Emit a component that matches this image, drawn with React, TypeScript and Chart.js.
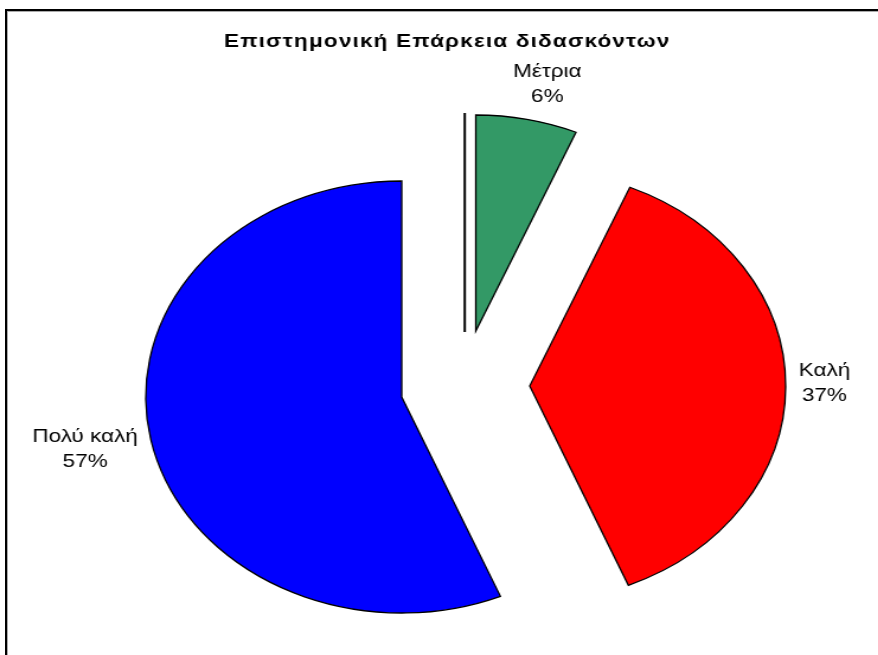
import React, { useEffect, useRef } from 'react';
import { Chart, registerables } from 'chart.js';

Chart.register(...registerables);

// ---- data ----
const chartTitle = 'Επιστημονική Επάρκεια διδασκόντων';
const categories = ['Μέτρια', 'Καλή', 'Πολύ καλή'];
// slice sizes as drawn in the picture (angles of the slices)
const values = [6.4, 37.3, 56.3];
// percentage labels as printed on the picture
const percentLabels = ['6%', '37%', '57%'];
const colors = ['#339966', '#FF0000', '#0000FF'];

// ---- layout / style ----
const STRETCH = 1.185; // the original chart image is stretched horizontally
const W = 741;
const H = 655;
const EXPLODE: [number, number][] = [
  [62.5, -66],
  [108, -11],
  [0, 0],
];
const LABEL_NUDGE: [number, number][] = [
  [9, 1.5],
  [-1, -4],
  [0, 3],
];
const FONT = 'Arial, "Liberation Sans", sans-serif';

const explodePlugin = {
  id: 'explodeSlices',
  afterDatasetsUpdate(chart: any) {
    const meta = chart.getDatasetMeta(0);
    meta.data.forEach((el: any, i: number) => {
      const s = EXPLODE[i] || [0, 0];
      el.x += s[0];
      el.y += s[1];
    });
  },
};

const decorPlugin = {
  id: 'decor',
  afterDatasetsDraw(chart: any) {
    const ctx = chart.ctx as CanvasRenderingContext2D;
    const meta = chart.getDatasetMeta(0);
    ctx.save();
    // side edge of the first exploded slice
    const g0 = meta.data[0];
    if (g0) {
      const p = g0.getProps(['x', 'y', 'outerRadius'], true);
      ctx.beginPath();
      ctx.strokeStyle = '#000';
      ctx.lineWidth = 2;
      ctx.moveTo(p.x - 9.3, p.y - p.outerRadius - 2);
      ctx.lineTo(p.x - 9.3, p.y + 1);
      ctx.stroke();
    }
    // data labels
    ctx.font = '19px ' + FONT;
    ctx.fillStyle = '#000';
    ctx.textAlign = 'center';
    ctx.textBaseline = 'middle';
    const lh = 25;
    const gap = 12;
    meta.data.forEach((el: any, i: number) => {
      const p = el.getProps(['x', 'y', 'startAngle', 'endAngle', 'outerRadius'], true);
      const mid = (p.startAngle + p.endAngle) / 2;
      const dx = Math.cos(mid);
      const dy = Math.sin(mid);
      const lines = [categories[i], percentLabels[i]];
      const w = Math.max(...lines.map((l) => ctx.measureText(l).width));
      const h = lh * lines.length;
      const n = LABEL_NUDGE[i] || [0, 0];
      const cx = p.x + dx * (p.outerRadius + gap) + (dx * w) / 2 + n[0];
      const cy = p.y + dy * (p.outerRadius + gap) + (dy * h) / 2 + n[1];
      lines.forEach((l, k) => {
        ctx.fillText(l, cx, cy - h / 2 + lh / 2 + k * lh);
      });
    });
    // title
    ctx.font = 'bold 19px ' + FONT;
    (ctx as any).letterSpacing = '1px';
    ctx.textBaseline = 'alphabetic';
    ctx.fillText(chartTitle, W / 2 + 7, 46.7);
    ctx.restore();
  },
};

export default function App() {
  const ref = useRef<HTMLCanvasElement>(null);
  useEffect(() => {
    if (!ref.current) return;
    const chart = new Chart(ref.current, {
      type: 'pie',
      data: {
        labels: categories,
        datasets: [
          {
            data: values,
            backgroundColor: colors,
            borderColor: '#000',
            borderWidth: 1.3,
            borderJoinStyle: 'miter',
          } as any,
        ],
      },
      options: {
        responsive: false,
        animation: false,
        radius: 216,
        layout: { padding: { left: 0, right: 63, top: 139, bottom: 0 } },
        plugins: {
          legend: { display: false },
          tooltip: { enabled: false },
          title: { display: false },
        },
      } as any,
      plugins: [explodePlugin, decorPlugin],
    });
    return () => chart.destroy();
  }, []);

  return (
    <div
      style={{
        position: 'fixed',
        left: 0,
        top: 0,
        width: 878,
        height: 655,
        overflow: 'hidden',
        background: '#fff',
      }}
    >
      <div
        style={{
          position: 'absolute',
          left: 0,
          top: 0,
          width: W,
          height: H,
          transform: `scaleX(${STRETCH})`,
          transformOrigin: '0 0',
        }}
      >
        <canvas ref={ref} width={W} height={H} />
      </div>
      <div
        style={{
          position: 'absolute',
          left: 5,
          top: 9,
          width: 1200,
          height: 1200,
          borderTop: '2px solid #000',
          borderLeft: '2px solid #000',
          boxShadow: 'inset 1px 1px 0 #aaa',
          pointerEvents: 'none',
        }}
      />
    </div>
  );
}
